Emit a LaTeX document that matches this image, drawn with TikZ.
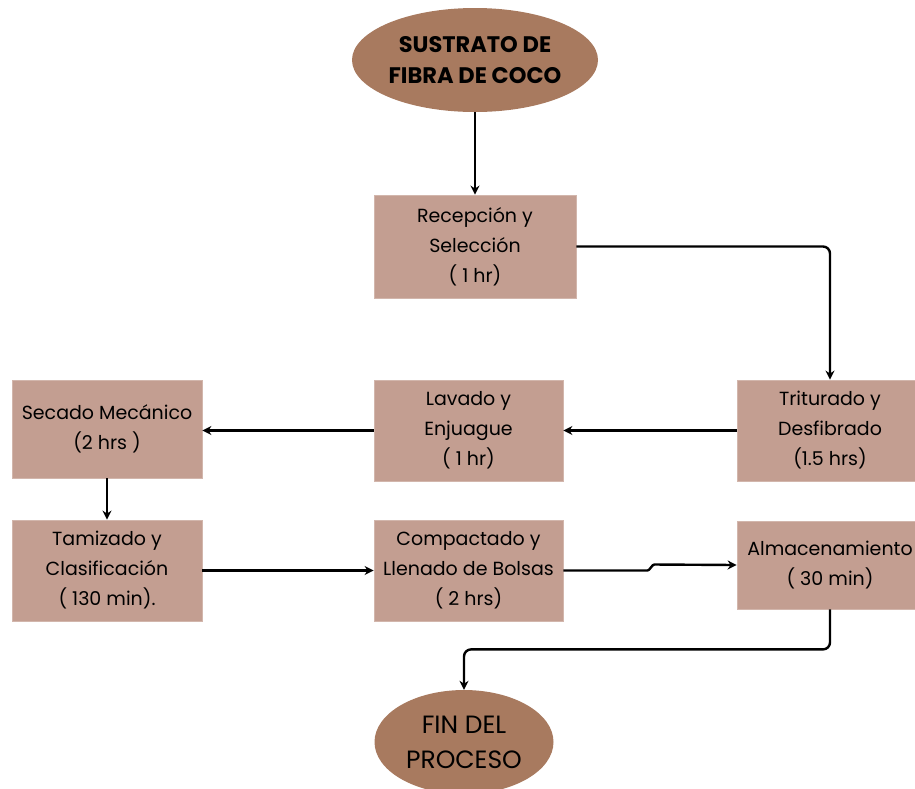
\documentclass[tikz,border=0pt]{standalone}
\usepackage{fontspec}
\setmainfont{Poppins}
\usetikzlibrary{shapes.geometric,arrows.meta}
\definecolor{cocobox}{HTML}{C39E91}
\definecolor{cocoshell}{HTML}{A87A5F}

\tikzset{
  stepbox/.style={fill=cocobox, draw=cocobox!75!white, line width=0.8pt, inner sep=0pt,
    align=center, font=\fontsize{19}{30}\selectfont},
  endcap/.style={ellipse, fill=cocoshell, inner sep=0pt, align=center},
  flow/.style={line width=2.4pt, -{Stealth[length=9pt,width=9pt]}, rounded corners=7pt}
}

\begin{document}
\begin{tikzpicture}[x=1pt,y=-1pt]
                \useasboundingbox (0,0) rectangle (915,788);
                \clip (0,0) rectangle (915,788);

                \node[endcap,minimum width=246pt,minimum height=104pt,font=\bfseries\fontsize{22.5}{31}\selectfont] (sustrato) at (475,60) {SUSTRATO DE\\FIBRA DE COCO};

                \node[stepbox,minimum width=202pt,minimum height=103pt] (recep) at (475,246.5) {Recepción y\\Selección\\( 1 hr)};
                \node[stepbox,minimum width=186pt,minimum height=101pt] (trit) at (830,430.5) {Triturado y\\Desfibrado\\(1.5 hrs)};
                \node[stepbox,minimum width=189pt,minimum height=101pt] (lavado) at (468.5,430.5) {Lavado y\\Enjuague\\( 1 hr)};
                \node[stepbox,minimum width=190pt,minimum height=98pt] (secado) at (107,429) {Secado Mecánico\\(2 hrs )};
                \node[stepbox,minimum width=190pt,minimum height=101pt] (tamiz) at (107,570.5) {Tamizado y\\Clasificación\\( 130 min).};
                \node[stepbox,minimum width=189pt,minimum height=101pt] (compac) at (468.5,570.5) {Compactado y\\Llenado de Bolsas\\( 2 hrs)};
                \node[stepbox,minimum width=186pt,minimum height=88pt] (almac) at (830,565) {Almacenamiento\\( 30 min)};

                \node[endcap,minimum width=179pt,minimum height=104pt,font=\fontsize{25}{35}\selectfont] (fin) at (464,742) {FIN DEL\\PROCESO};

                \draw[flow] (sustrato.south) -- (recep.north);
                \draw[flow] (recep.east) -| (trit.north);
                \draw[flow] (trit.west) -- (lavado.east);
                \draw[flow] (lavado.west) -- (lavado.west -| secado.east);
                \draw[flow] (secado.south) -- (tamiz.north);
                \draw[flow] (tamiz.east) -- (compac.west);
                \draw[flow,rounded corners=1pt] (compac.east) -- ++(85,0) -- ++(5,-6) -- (almac.west);
                \draw[flow] (almac.south) -- ++(0,40) -| (fin.north);
            \end{tikzpicture}
\end{document}
